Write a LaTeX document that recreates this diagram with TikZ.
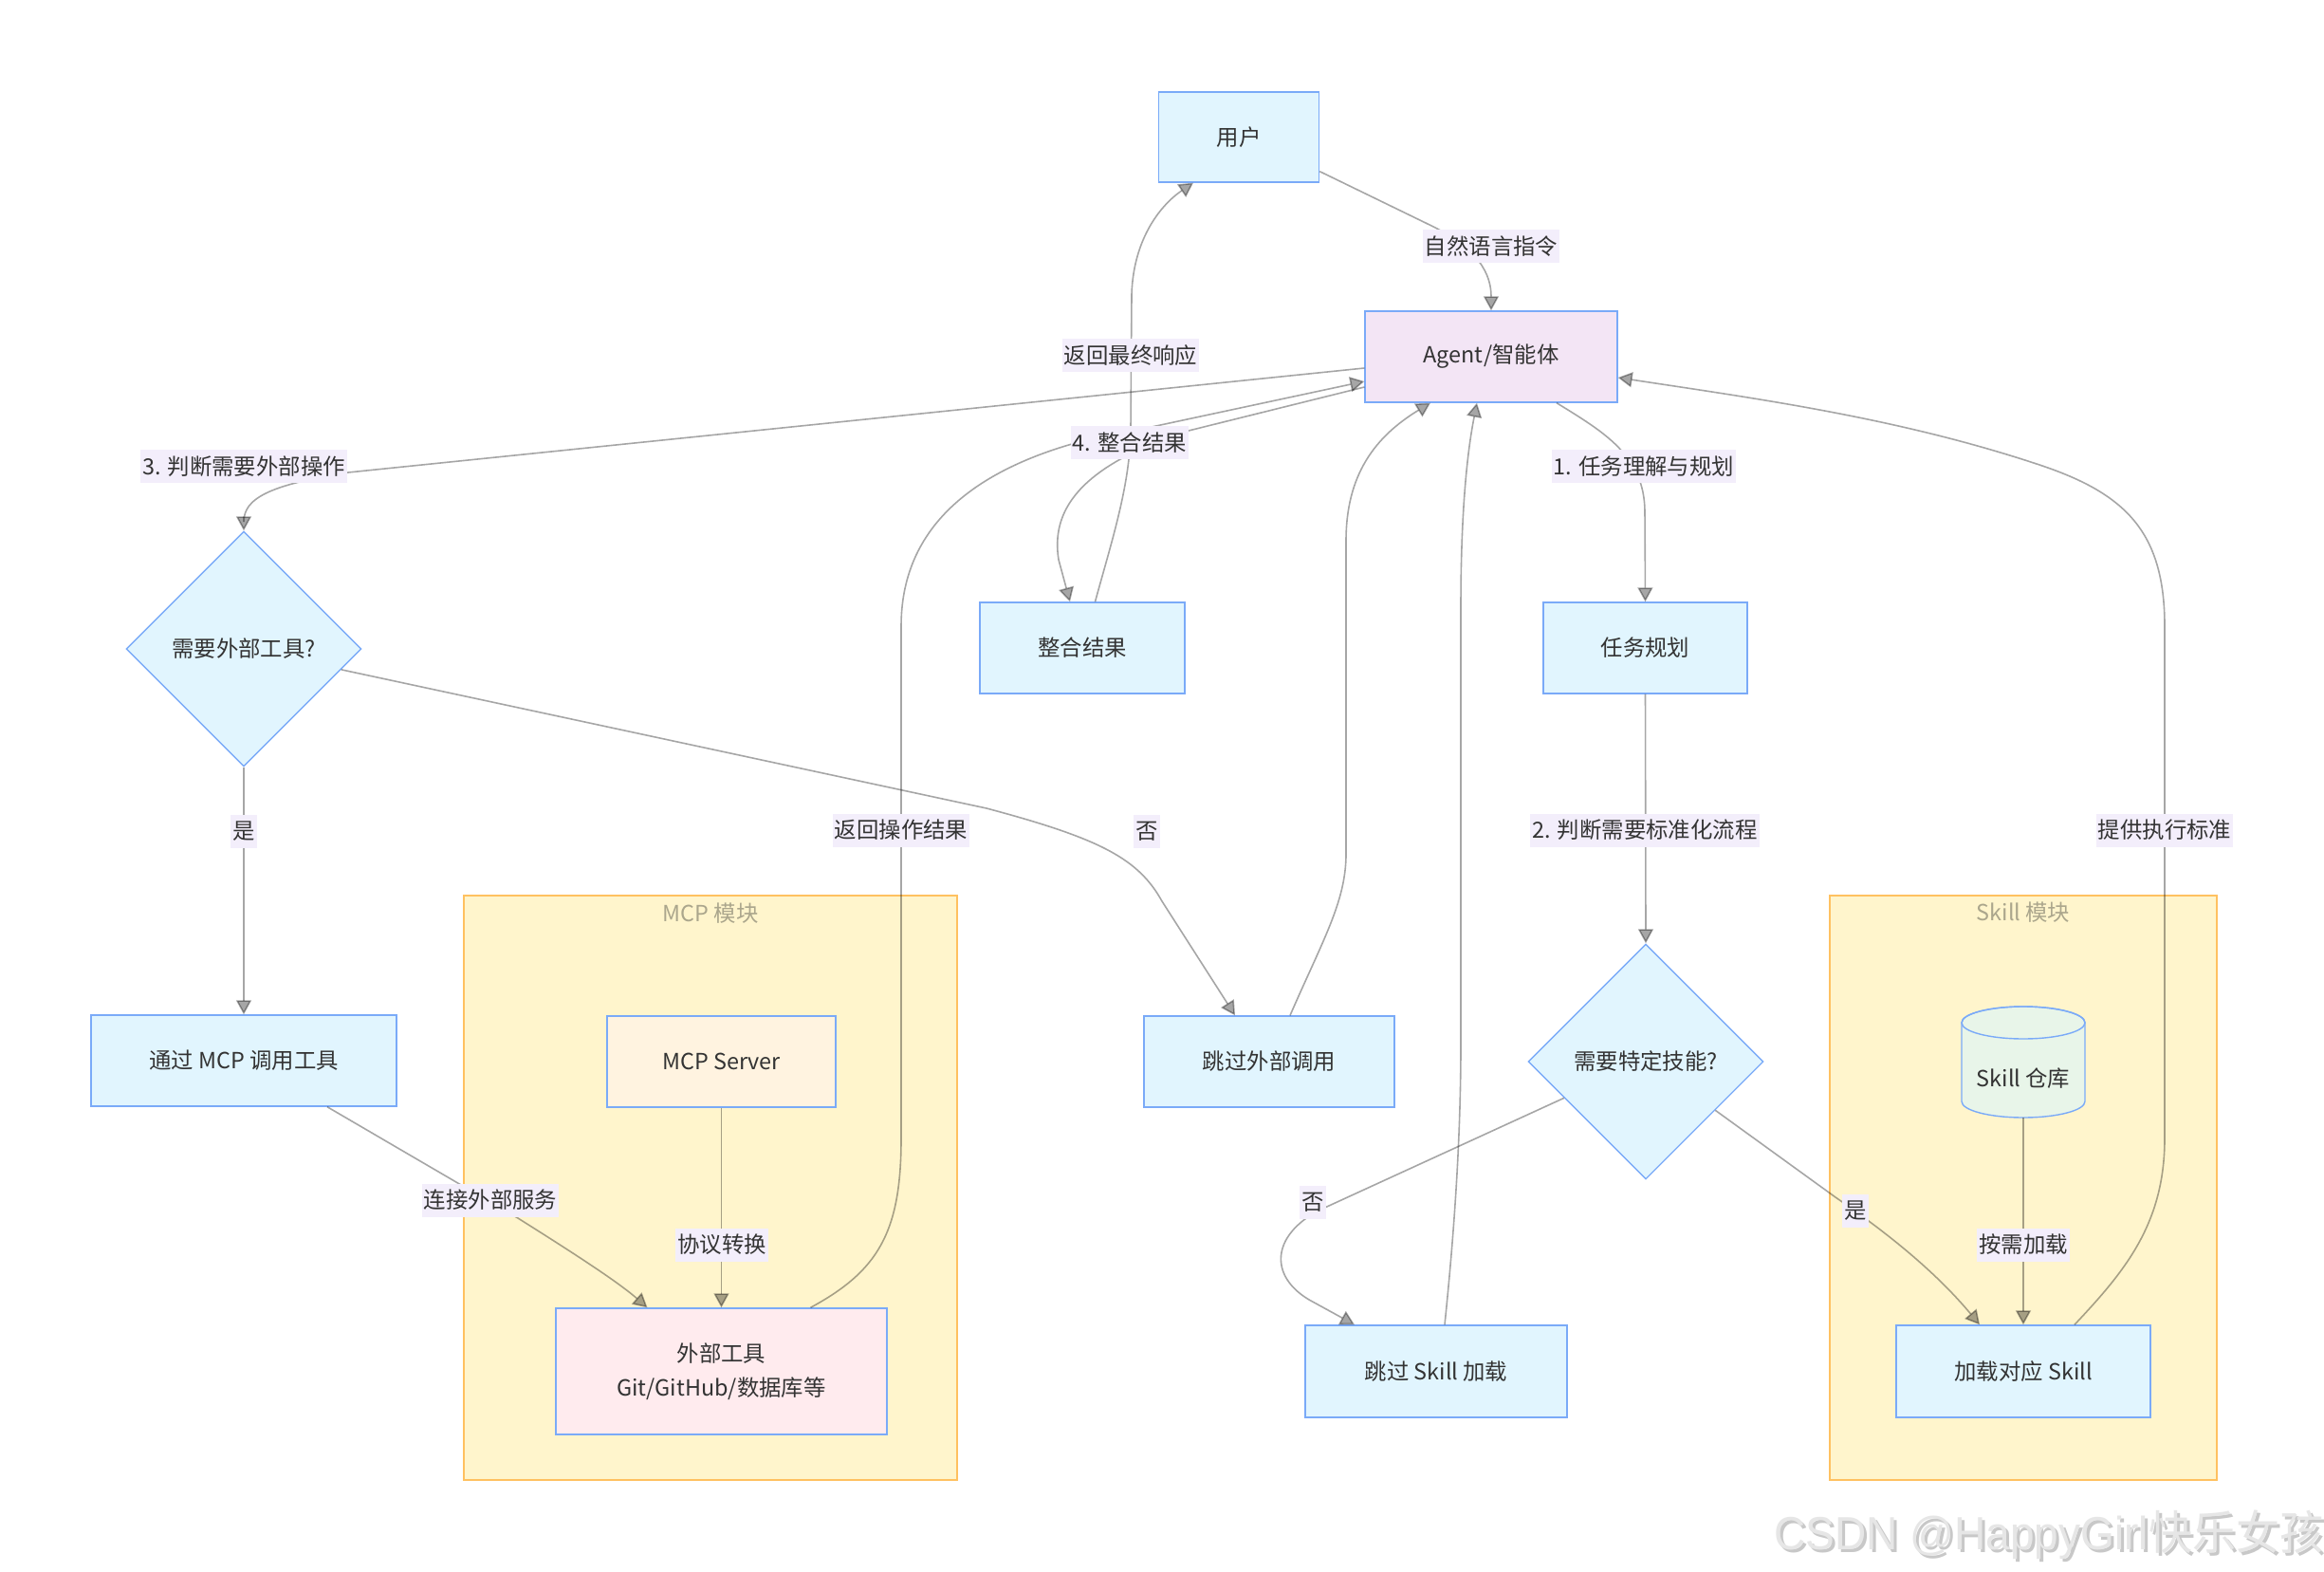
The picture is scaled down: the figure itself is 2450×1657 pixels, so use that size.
\documentclass[tikz,border=0pt]{standalone}
\usepackage{fontspec}
\setmainfont{Noto Sans CJK SC}
\newfontfamily\wmfont{Liberation Sans}
\usetikzlibrary{arrows.meta,shapes.geometric}
\definecolor{nblue}{HTML}{E1F5FE}
\definecolor{nstroke}{HTML}{7AAAF8}
\definecolor{agentfill}{HTML}{F3E5F5}
\definecolor{serverfill}{HTML}{FFF3E0}
\definecolor{extfill}{HTML}{FFEBEE}
\definecolor{repofill}{HTML}{E8F5E9}
\definecolor{clfill}{HTML}{FFF5CC}
\definecolor{clstroke}{HTML}{FFC160}
\definecolor{cltext}{HTML}{ABA68C}
\definecolor{lblfill}{HTML}{F3EEFB}
\definecolor{txt}{HTML}{333333}
\definecolor{wmmain}{HTML}{E6E6E6}
\definecolor{wmshade}{HTML}{C8C8C8}
\begin{document}
\begin{tikzpicture}[x=0.5pt,y=-0.5pt,
  base/.style={font=\fontsize{11.7}{18}\selectfont, text=txt},
  box/.style={base, draw=nstroke, line width=0.7pt, fill=nblue, inner sep=0pt, align=center},
  dec/.style={box, diamond, aspect=1, minimum width=124pt, minimum height=124pt},
  lbl/.style={base, fill=lblfill, inner xsep=1pt, inner ysep=0pt, minimum height=17.5pt},
  edge/.style={draw=black, opacity=0.35, line width=0.8pt, -{Triangle[length=7.5pt,width=8pt]}},
  cluster/.style={draw=clstroke, fill=clfill, line width=0.8pt, inner sep=0pt},
  cltitle/.style={base, text=cltext}]

\fill[white] (0,0) rectangle (2450,1657);
\useasboundingbox (0,0) rectangle (2450,1657);

% clusters
\node[cluster, minimum width=260pt, minimum height=308pt] (mcpbox) at (749,1252) {};
\node[cluster, minimum width=204pt, minimum height=308pt] (skillbox) at (2133,1252) {};
\node[cltitle] (mcptitle) at (749,963) {MCP 模块};
\node[cltitle] (skilltitle) at (2133,962) {Skill 模块};

% nodes
\node[box, minimum width=84.5pt, minimum height=47.5pt] (user) at (1306,144.5) {用户};
\node[box, fill=agentfill, minimum width=133pt, minimum height=48pt] (agent) at (1572,376) {Agent/智能体};
\node[box, minimum width=108pt, minimum height=48pt] (merge) at (1141,683) {整合结果};
\node[box, minimum width=107.5pt, minimum height=48pt] (plan) at (1734.5,683) {任务规划};
\node[dec] (d1) at (257,684) {需要外部工具?};
\node[dec] (d2) at (1735,1119) {需要特定技能?};
\node[box, minimum width=161pt, minimum height=48pt] (mcpcall) at (257,1118) {通过 MCP 调用工具};
\node[box, fill=serverfill, minimum width=120.5pt, minimum height=48pt] (mcps) at (760.5,1119) {MCP Server};
\node[box, fill=extfill, minimum width=174.5pt, minimum height=66.5pt] (ext) at (760.5,1445.5) {外部工具\\Git/GitHub/数据库等};
\node[box, minimum width=132pt, minimum height=48pt] (skipext) at (1338,1119) {跳过外部调用};
\node[box, minimum width=138pt, minimum height=48.5pt] (skipskill) at (1514,1445.5) {跳过 Skill 加载};
\node[box, minimum width=134pt, minimum height=48.5pt] (loadskill) at (2133,1445.5) {加载对应 Skill};

% cylinder Skill 仓库
\path[fill=repofill, draw=nstroke, line width=0.7pt]
  (2068,1078) -- (2068,1161) arc[start angle=180, end angle=0, x radius=65, y radius=17]
  -- (2198,1078) arc[start angle=0, end angle=-180, x radius=65, y radius=17] -- cycle;
\draw[nstroke, line width=0.7pt] (2133,1078) ellipse[x radius=65, y radius=17];
\node[base, minimum width=65pt, minimum height=41.5pt, inner sep=0pt] (repo) at (2133,1136.5) {Skill 仓库};

% edges
\draw[edge] (user.-23.5) -- (1505,236) .. controls (1560,262) and (1572,290) .. (agent.north);
\draw[edge] ([xshift=34.5pt]agent.south) .. controls (1690,455) and (1734,480) .. (1734,540) -- (plan.north);
\draw[edge] (plan.south) -- (d2.north);
\draw[edge] ([yshift=-6pt]agent.west) -- (367,498) .. controls (285,511) and (257,525) .. (257,550) -- (d1.north);
\draw[edge] (d1.south) -- (mcpcall.north);
\draw[edge] (d1.-12.5) -- (1040,852) .. controls (1160,884) and (1200,905) .. (1225,950) -- ([xshift=-18pt]skipext.north);
\draw[edge] ([xshift=44pt]mcpcall.south) -- (546,1284) .. controls (600,1318) and (650,1350) .. ([xshift=-39pt]ext.north);
\draw[edge] (mcps.south) -- (ext.north);
\draw[edge] ([xshift=47pt]ext.north) .. controls (925,1340) and (950,1300) .. (950,1200) -- (950,660) .. controls (950,560) and (1020,500) .. (1130,468) -- ([yshift=-13pt]agent.west);
\draw[edge] ([xshift=11pt]skipext.north) .. controls (1395,990) and (1419,950) .. (1419,900) -- (1419,570) .. controls (1419,500) and (1450,460) .. ([xshift=-32pt]agent.south);
\draw[edge] ([xshift=6.75pt]merge.north) .. controls (1172,570) and (1192,510) .. (1192,450) -- (1193,310) .. controls (1195,250) and (1225,215) .. ([xshift=-24pt]user.south);
\draw[edge] ([yshift=-16pt]agent.west) -- (1253,454) .. controls (1135,492) and (1108,540) .. (1116,590) -- ([xshift=-6.5pt]merge.north);
\draw[edge] ([xshift=4.5pt]skipskill.north) .. controls (1533,1300) and (1540,1200) .. (1540,1100) -- (1540,640) .. controls (1540,530) and (1548,470) .. ([xshift=-7.5pt]agent.south);
\draw[edge] (d2.204) -- (1390,1276) .. controls (1340,1303) and (1338,1345) .. (1380,1370) -- ([xshift=-43pt]skipskill.north);
\draw[edge] (d2.-35.6) -- (1935,1262) .. controls (1990,1300) and (2040,1340) .. ([xshift=-23pt]loadskill.north);
\draw[edge] (repo.south) -- (loadskill.north);
\draw[edge] ([xshift=27pt]loadskill.north) .. controls (2240,1340) and (2282,1290) .. (2282,1200) -- (2282,660) .. controls (2282,560) and (2240,520) .. (2150,490) .. controls (2000,440) and (1850,420) .. ([yshift=-11pt]agent.east);

% edge labels
\node[lbl] (l1) at (1572,260) {自然语言指令};
\node[lbl] (l2) at (1192,375) {返回最终响应};
\node[lbl] (l3) at (1191,467) {4. 整合结果};
\node[lbl] (l4) at (257,492) {3. 判断需要外部操作};
\node[lbl] (l5) at (1733,492) {1. 任务理解与规划};
\node[lbl] (l6) at (257,876) {是};
\node[lbl] (l7) at (950,875) {返回操作结果};
\node[lbl] (l8) at (1209,876) {否};
\node[lbl] (l9) at (1734,875) {2. 判断需要标准化流程};
\node[lbl] (l10) at (2282,875) {提供执行标准};
\node[lbl] (l11) at (517,1265) {连接外部服务};
\node[lbl] (l12) at (761,1312) {协议转换};
\node[lbl] (l13) at (1384,1267) {否};
\node[lbl] (l14) at (1956,1276) {是};
\node[lbl] (l15) at (2133,1312) {按需加载};

% watermark
\node[anchor=base west, text=wmshade, xscale=0.94, inner sep=0pt] (wmshadow) at (1873,1636) {\fontsize{24.5}{26}\selectfont{\wmfont CSDN @HappyGirl}快乐女孩};
\node[anchor=base west, text=wmmain, xscale=0.94, inner sep=0pt] (wm) at (1870,1633) {\fontsize{24.5}{26}\selectfont{\wmfont CSDN @HappyGirl}快乐女孩};
\end{tikzpicture}
\end{document}
